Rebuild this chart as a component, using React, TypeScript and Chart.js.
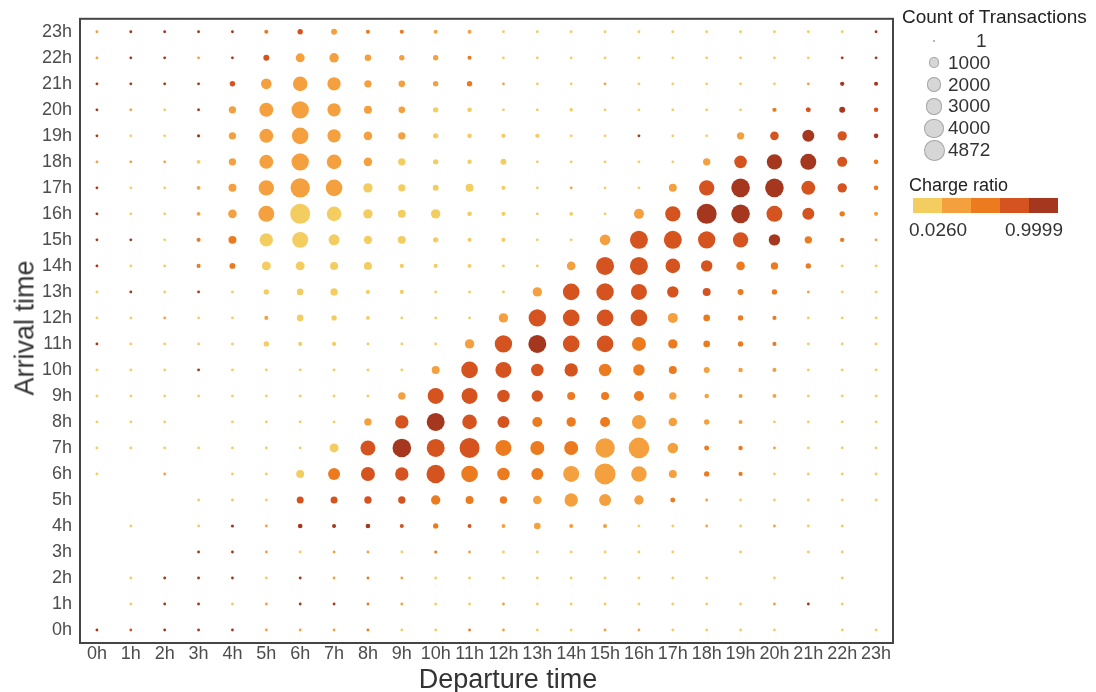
import React, { useEffect, useRef } from "react";
import { Chart, registerables } from "chart.js";

Chart.register(...registerables);

// Hour labels used for both axes
const hourLabels = [
  "0h", "1h", "2h", "3h", "4h", "5h", "6h", "7h", "8h", "9h", "10h", "11h",
  "12h", "13h", "14h", "15h", "16h", "17h", "18h", "19h", "20h", "21h", "22h", "23h",
];

// transactionCounts[arrivalHour][departureHour]
const transactionCounts: number[][] = [
  [3, 3, 3, 3, 3, 3, 3, 3, 3, 3, 3, 3, 3, 3, 3, 3, 3, 3, 3, 3, 3, 0, 3, 3],
  [0, 3, 3, 3, 3, 3, 3, 3, 3, 3, 3, 3, 3, 3, 3, 3, 3, 3, 3, 3, 3, 3, 3, 0],
  [0, 3, 3, 3, 3, 3, 3, 3, 3, 3, 3, 3, 3, 3, 3, 3, 3, 3, 3, 0, 3, 0, 3, 0],
  [0, 0, 0, 3, 3, 3, 3, 3, 3, 3, 5, 3, 3, 3, 3, 3, 3, 3, 0, 3, 0, 3, 3, 0],
  [0, 3, 0, 3, 8, 3, 70, 40, 70, 40, 120, 30, 30, 250, 40, 40, 3, 3, 3, 3, 3, 3, 3, 0],
  [0, 0, 0, 3, 3, 3, 300, 300, 350, 350, 680, 440, 350, 540, 1700, 1300, 690, 95, 3, 3, 3, 3, 3, 3],
  [3, 0, 3, 0, 3, 3, 440, 1300, 1900, 1700, 3600, 2850, 1450, 1300, 2600, 4872, 2400, 440, 120, 50, 3, 3, 3, 3],
  [3, 3, 3, 3, 3, 3, 3, 613, 2240, 3700, 3430, 4360, 2600, 1900, 1900, 4070, 4700, 950, 95, 60, 3, 3, 3, 3],
  [3, 3, 3, 0, 3, 3, 3, 3, 350, 1700, 3430, 2100, 1300, 810, 690, 810, 1900, 540, 127, 40, 3, 3, 3, 3],
  [3, 3, 3, 3, 3, 3, 3, 3, 3, 350, 2600, 2600, 1450, 1150, 440, 440, 810, 350, 60, 40, 30, 3, 3, 3],
  [3, 3, 3, 3, 3, 3, 3, 3, 3, 3, 440, 2850, 2600, 1450, 1700, 1450, 1150, 440, 180, 60, 40, 3, 3, 3],
  [3, 3, 3, 3, 3, 127, 40, 40, 3, 3, 3, 690, 3170, 3430, 2840, 2840, 1900, 690, 250, 127, 40, 3, 3, 3],
  [3, 3, 3, 3, 3, 40, 250, 127, 30, 3, 3, 3, 690, 3170, 2840, 2840, 2840, 810, 250, 127, 40, 3, 3, 3],
  [3, 3, 3, 3, 3, 127, 250, 350, 40, 40, 3, 3, 3, 690, 2840, 3170, 2600, 1150, 440, 180, 127, 3, 3, 3],
  [3, 3, 3, 40, 180, 610, 610, 440, 440, 40, 40, 30, 3, 3, 540, 3430, 3430, 2100, 1150, 540, 350, 127, 3, 3],
  [3, 3, 3, 40, 440, 1700, 2600, 1040, 500, 440, 127, 40, 40, 3, 3, 950, 3430, 3430, 3170, 2380, 1150, 350, 60, 3],
  [3, 3, 3, 30, 540, 2600, 4360, 2100, 690, 440, 690, 70, 40, 3, 30, 3, 810, 2380, 4360, 3700, 2600, 1300, 127, 40],
  [3, 3, 3, 30, 440, 2380, 4070, 2840, 690, 350, 180, 440, 40, 3, 3, 3, 3, 440, 2380, 3700, 3700, 1900, 690, 70],
  [3, 3, 3, 30, 350, 1900, 3170, 2100, 540, 350, 127, 60, 180, 3, 3, 3, 3, 3, 350, 1460, 2380, 2600, 810, 70],
  [3, 3, 3, 10, 350, 1900, 2840, 1700, 540, 350, 127, 70, 50, 50, 3, 3, 3, 3, 3, 350, 540, 1300, 690, 70],
  [3, 3, 3, 5, 350, 1900, 3170, 1700, 440, 250, 127, 70, 3, 3, 20, 3, 3, 3, 3, 3, 50, 95, 180, 60],
  [3, 3, 3, 3, 127, 950, 2100, 1700, 350, 250, 127, 127, 3, 3, 3, 3, 3, 3, 3, 3, 3, 3, 50, 40],
  [3, 3, 3, 3, 3, 180, 610, 690, 250, 127, 127, 40, 3, 3, 3, 3, 3, 3, 3, 3, 3, 3, 3, 3],
  [3, 3, 3, 3, 3, 40, 127, 180, 40, 40, 30, 30, 3, 3, 3, 3, 3, 3, 3, 3, 3, 3, 3, 3],
];

// chargeRatios[arrivalHour][departureHour]
const chargeRatios: number[][] = [
  [0.9, 0.7, 0.9, 0.9, 0.9, 0.31, 0.31, 0.31, 0.5, 0.12, 0.12, 0.5, 0.31, 0.12, 0.12, 0.31, 0.31, 0.12, 0.12, 0.12, 0.12, 0.12, 0.12, 0.12],
  [0.12, 0.12, 0.9, 0.9, 0.12, 0.31, 0.9, 0.9, 0.5, 0.31, 0.12, 0.12, 0.31, 0.12, 0.12, 0.12, 0.12, 0.12, 0.12, 0.12, 0.31, 0.9, 0.12, 0.12],
  [0.12, 0.12, 0.9, 0.9, 0.9, 0.12, 0.9, 0.31, 0.5, 0.31, 0.12, 0.12, 0.12, 0.12, 0.12, 0.12, 0.12, 0.12, 0.12, 0.12, 0.12, 0.12, 0.12, 0.12],
  [0.12, 0.12, 0.12, 0.9, 0.9, 0.31, 0.12, 0.31, 0.31, 0.12, 0.5, 0.31, 0.12, 0.12, 0.12, 0.12, 0.12, 0.12, 0.12, 0.12, 0.12, 0.12, 0.12, 0.12],
  [0.12, 0.12, 0.12, 0.12, 0.9, 0.31, 0.9, 0.9, 0.9, 0.7, 0.5, 0.7, 0.31, 0.31, 0.31, 0.31, 0.12, 0.12, 0.31, 0.12, 0.31, 0.12, 0.12, 0.12],
  [0.12, 0.12, 0.12, 0.12, 0.12, 0.12, 0.7, 0.7, 0.7, 0.7, 0.5, 0.5, 0.5, 0.31, 0.31, 0.31, 0.31, 0.5, 0.31, 0.12, 0.12, 0.12, 0.12, 0.12],
  [0.12, 0.12, 0.31, 0.12, 0.12, 0.12, 0.12, 0.5, 0.7, 0.7, 0.7, 0.5, 0.5, 0.5, 0.31, 0.31, 0.31, 0.31, 0.5, 0.5, 0.12, 0.12, 0.12, 0.12],
  [0.12, 0.12, 0.12, 0.12, 0.12, 0.12, 0.12, 0.12, 0.7, 0.9, 0.7, 0.7, 0.5, 0.5, 0.5, 0.31, 0.31, 0.31, 0.5, 0.5, 0.31, 0.12, 0.12, 0.12],
  [0.12, 0.12, 0.12, 0.12, 0.12, 0.12, 0.12, 0.12, 0.31, 0.7, 0.9, 0.7, 0.7, 0.5, 0.5, 0.5, 0.31, 0.31, 0.31, 0.31, 0.12, 0.12, 0.12, 0.12],
  [0.12, 0.12, 0.12, 0.12, 0.12, 0.12, 0.12, 0.12, 0.12, 0.31, 0.7, 0.7, 0.7, 0.7, 0.5, 0.5, 0.5, 0.31, 0.31, 0.31, 0.31, 0.12, 0.12, 0.12],
  [0.12, 0.12, 0.12, 0.9, 0.12, 0.12, 0.12, 0.12, 0.12, 0.12, 0.31, 0.7, 0.7, 0.7, 0.7, 0.5, 0.5, 0.5, 0.31, 0.31, 0.31, 0.12, 0.12, 0.12],
  [0.9, 0.12, 0.12, 0.12, 0.12, 0.12, 0.12, 0.12, 0.12, 0.12, 0.12, 0.31, 0.7, 0.9, 0.7, 0.7, 0.5, 0.5, 0.5, 0.5, 0.5, 0.12, 0.12, 0.12],
  [0.12, 0.12, 0.31, 0.12, 0.12, 0.31, 0.12, 0.12, 0.12, 0.12, 0.12, 0.12, 0.31, 0.7, 0.7, 0.7, 0.7, 0.31, 0.5, 0.5, 0.5, 0.12, 0.12, 0.12],
  [0.12, 0.9, 0.12, 0.9, 0.12, 0.12, 0.12, 0.12, 0.12, 0.12, 0.12, 0.12, 0.12, 0.31, 0.7, 0.7, 0.7, 0.7, 0.7, 0.5, 0.5, 0.31, 0.12, 0.12],
  [0.9, 0.12, 0.12, 0.5, 0.5, 0.12, 0.12, 0.12, 0.12, 0.12, 0.12, 0.12, 0.12, 0.12, 0.31, 0.7, 0.7, 0.7, 0.7, 0.5, 0.5, 0.5, 0.12, 0.12],
  [0.9, 0.9, 0.12, 0.5, 0.5, 0.12, 0.12, 0.12, 0.12, 0.12, 0.12, 0.12, 0.12, 0.12, 0.12, 0.31, 0.7, 0.7, 0.7, 0.7, 0.9, 0.5, 0.5, 0.31],
  [0.9, 0.12, 0.12, 0.31, 0.31, 0.31, 0.12, 0.12, 0.12, 0.12, 0.12, 0.12, 0.12, 0.12, 0.12, 0.12, 0.31, 0.7, 0.9, 0.9, 0.7, 0.7, 0.5, 0.31],
  [0.9, 0.12, 0.12, 0.31, 0.31, 0.31, 0.31, 0.31, 0.12, 0.12, 0.12, 0.12, 0.12, 0.12, 0.31, 0.12, 0.12, 0.31, 0.7, 0.9, 0.9, 0.7, 0.7, 0.5],
  [0.31, 0.31, 0.31, 0.12, 0.31, 0.31, 0.31, 0.31, 0.31, 0.12, 0.12, 0.12, 0.12, 0.12, 0.12, 0.12, 0.12, 0.12, 0.31, 0.7, 0.9, 0.9, 0.7, 0.5],
  [0.9, 0.12, 0.12, 0.9, 0.31, 0.31, 0.31, 0.31, 0.31, 0.31, 0.12, 0.12, 0.12, 0.12, 0.12, 0.12, 0.9, 0.12, 0.12, 0.31, 0.7, 0.9, 0.7, 0.9],
  [0.9, 0.31, 0.12, 0.9, 0.31, 0.31, 0.31, 0.31, 0.31, 0.31, 0.12, 0.12, 0.12, 0.12, 0.12, 0.12, 0.12, 0.12, 0.12, 0.12, 0.5, 0.7, 0.9, 0.7],
  [0.9, 0.9, 0.9, 0.9, 0.7, 0.31, 0.31, 0.31, 0.31, 0.31, 0.31, 0.5, 0.31, 0.12, 0.12, 0.31, 0.12, 0.12, 0.12, 0.12, 0.12, 0.31, 0.9, 0.9],
  [0.31, 0.9, 0.9, 0.31, 0.9, 0.7, 0.31, 0.31, 0.31, 0.31, 0.31, 0.5, 0.12, 0.12, 0.12, 0.12, 0.12, 0.12, 0.12, 0.12, 0.12, 0.12, 0.9, 0.9],
  [0.31, 0.9, 0.9, 0.9, 0.9, 0.5, 0.7, 0.31, 0.5, 0.5, 0.31, 0.31, 0.12, 0.12, 0.12, 0.12, 0.12, 0.12, 0.12, 0.12, 0.12, 0.12, 0.12, 0.9],
];

const sizeLegendValues = [1, 1000, 2000, 3000, 4000, 4872];
const chargeRatioRange = [0.026, 0.9999];
const chargeRatioLabels = ["0.0260", "0.9999"];

const ratioColors = ["#F3CD60", "#F5A03E", "#EC7A1E", "#D4531F", "#A6371F"];
const MAX_COUNT = 4872;
const R_MIN = 1.2;
const R_MAX = 10.5;
const FONT = "'Liberation Sans', Arial, Helvetica, sans-serif";

function radiusFor(n: number) {
  return R_MIN + (R_MAX - R_MIN) * Math.sqrt(Math.max(n, 0) / MAX_COUNT);
}

function colorFor(ratio: number) {
  const [lo, hi] = chargeRatioRange;
  const t = (ratio - lo) / (hi - lo);
  const idx = Math.max(0, Math.min(ratioColors.length - 1, Math.floor(t * ratioColors.length)));
  return ratioColors[idx];
}

export default function App() {
  const canvasRef = useRef<HTMLCanvasElement>(null);

  useEffect(() => {
    if (!canvasRef.current) return;
    const points: any[] = [];
    transactionCounts.forEach((row, arr) => {
      row.forEach((n, dep) => {
        if (n > 0) {
          points.push({ x: dep, y: arr, r: radiusFor(n), ratio: chargeRatios[arr][dep] });
        }
      });
    });

    const framePlugin = {
      id: "frame",
      afterDatasetsDraw(chart: any) {
        const { ctx, chartArea: a } = chart;
        ctx.save();
        ctx.strokeStyle = "#454545";
        ctx.lineWidth = 2;
        ctx.strokeRect(a.left, a.top, a.right - a.left, a.bottom - a.top);
        ctx.restore();
      },
    };

    const tickFont = { family: FONT, size: 18 };

    const chart = new Chart(canvasRef.current, {
      type: "bubble",
      data: {
        datasets: [
          {
            data: points,
            backgroundColor: (c: any) => colorFor(c.raw ? c.raw.ratio : 0),
            borderWidth: 0,
            hoverRadius: 0,
          } as any,
        ],
      },
      options: {
        animation: false,
        responsive: false,
        events: [],
        layout: { padding: { left: 0, right: 203, top: 8, bottom: 0 } },
        plugins: { legend: { display: false }, tooltip: { enabled: false } },
        scales: {
          x: {
            type: "linear",
            min: -0.5,
            max: 23.5,
            grid: { display: false, drawTicks: false },
            border: { display: false },
            afterBuildTicks: (s: any) => {
              s.ticks = hourLabels.map((_, i) => ({ value: i }));
            },
            afterFit: (s: any) => {
              s.height = 49;
            },
            ticks: {
              autoSkip: false,
              maxRotation: 0,
              minRotation: 0,
              padding: 0,
              color: "#4d4d4d",
              font: tickFont,
              callback: (v: any) => hourLabels[Math.round(Number(v))] ?? "",
            },
          },
          y: {
            type: "linear",
            min: -0.5,
            max: 23.5,
            grid: { display: false, drawTicks: false },
            border: { display: false },
            afterBuildTicks: (s: any) => {
              s.ticks = hourLabels.map((_, i) => ({ value: i }));
            },
            afterFit: (s: any) => {
              s.width = 80;
            },
            ticks: {
              autoSkip: false,
              padding: 8,
              color: "#4d4d4d",
              font: tickFont,
              callback: (v: any) => hourLabels[Math.round(Number(v))] ?? "",
            },
          },
        },
      } as any,
      plugins: [framePlugin],
    });
    return () => chart.destroy();
  }, []);

  const legendRowY = (i: number) => 41 + i * 21.8;

  return (
    <div
      style={{
        position: "fixed",
        left: 0,
        top: 0,
        width: 1096,
        height: 692,
        background: "#ffffff",
        fontFamily: FONT,
        overflow: "hidden",
      }}
    >
      <canvas ref={canvasRef} width={1096} height={692} style={{ display: "block", width: 1096, height: 692 }} />

      <div
        style={{
          position: "absolute",
          left: 508,
          top: 679,
          transform: "translate(-50%, -50%)",
          fontSize: 27,
          color: "#333",
          whiteSpace: "nowrap",
        }}
      >
        Departure time
      </div>
      <div
        style={{
          position: "absolute",
          left: 25,
          top: 328,
          transform: "translate(-50%, -50%) rotate(-90deg)",
          fontSize: 27,
          color: "#333",
          whiteSpace: "nowrap",
        }}
      >
        Arrival time
      </div>

      {/* Size legend */}
      <div
        style={{
          position: "absolute",
          left: 902,
          top: 17,
          transform: "translateY(-50%)",
          fontSize: 19,
          color: "#222",
          whiteSpace: "nowrap",
        }}
      >
        Count of Transactions
      </div>
      {sizeLegendValues.map((v, i) => {
        const r = radiusFor(v);
        const cy = legendRowY(i);
        return (
          <React.Fragment key={v}>
            <div
              style={{
                position: "absolute",
                left: 934 - r,
                top: cy - r,
                width: 2 * r,
                height: 2 * r,
                borderRadius: "50%",
                background: "rgba(200,200,200,0.75)",
                boxShadow: "inset 0 0 0 1px #a8a8a8",
              }}
            />
            <div
              style={{
                position: "absolute",
                left: v === 1 ? 976 : 948,
                top: cy,
                transform: "translateY(-50%)",
                fontSize: 19,
                color: "#333",
                whiteSpace: "nowrap",
              }}
            >
              {String(v)}
            </div>
          </React.Fragment>
        );
      })}

      {/* Colour legend */}
      <div
        style={{
          position: "absolute",
          left: 909,
          top: 185,
          transform: "translateY(-50%)",
          fontSize: 18,
          color: "#222",
          whiteSpace: "nowrap",
        }}
      >
        Charge ratio
      </div>
      <div style={{ position: "absolute", left: 913, top: 198, display: "flex" }}>
        {ratioColors.map((c) => (
          <div key={c} style={{ width: 29, height: 15, background: c }} />
        ))}
      </div>
      <div
        style={{
          position: "absolute",
          left: 909,
          top: 230,
          transform: "translateY(-50%)",
          fontSize: 19,
          color: "#333",
        }}
      >
        {chargeRatioLabels[0]}
      </div>
      <div
        style={{
          position: "absolute",
          left: 1063,
          top: 230,
          transform: "translate(-100%, -50%)",
          fontSize: 19,
          color: "#333",
        }}
      >
        {chargeRatioLabels[1]}
      </div>
    </div>
  );
}
